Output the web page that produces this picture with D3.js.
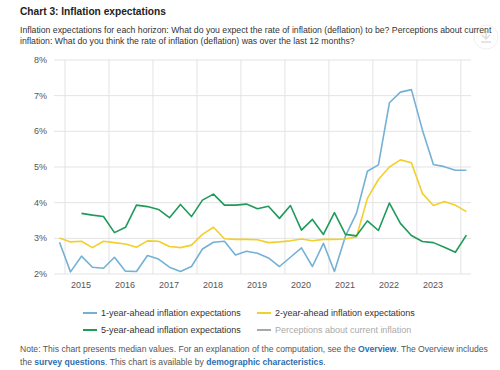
<!DOCTYPE html>
<head>
  <meta charset="utf-8">
  <script src="https://d3js.org/d3.v7.min.js"></script>
  <style>
    body { margin: 0; background: #fff; }
    text { font-family: "Liberation Sans", Arial, sans-serif; }
  </style>
</head>

<body>
  <script>

  // quarterly survey, 2014Q4 .. 2024Q1
  var quarters = ["2014Q4",
    "2015Q1","2015Q2","2015Q3","2015Q4","2016Q1","2016Q2","2016Q3","2016Q4",
    "2017Q1","2017Q2","2017Q3","2017Q4","2018Q1","2018Q2","2018Q3","2018Q4",
    "2019Q1","2019Q2","2019Q3","2019Q4","2020Q1","2020Q2","2020Q3","2020Q4",
    "2021Q1","2021Q2","2021Q3","2021Q4","2022Q1","2022Q2","2022Q3","2022Q4",
    "2023Q1","2023Q2","2023Q3","2023Q4","2024Q1"];

  var oneYear = [2.89,
    2.06, 2.50, 2.19, 2.16, 2.47, 2.08, 2.07, 2.52,
    2.42, 2.19, 2.07, 2.21, 2.70, 2.89, 2.92, 2.53,
    2.64, 2.58, 2.45, 2.21, 2.47, 2.73, 2.21, 2.86,
    2.07, 3.06, 3.70, 4.88, 5.06, 6.80, 7.10, 7.17,
    6.04, 5.07, 5.01, 4.91, 4.91];

  var twoYear = [3.01,
    2.90, 2.92, 2.74, 2.92, 2.88, 2.84, 2.75, 2.93,
    2.92, 2.77, 2.74, 2.81, 3.11, 3.31, 2.99, 2.97,
    2.97, 2.96, 2.88, 2.90, 2.93, 2.98, 2.93, 2.97,
    2.97, 2.98, 3.04, 4.12, 4.65, 5.00, 5.20, 5.12,
    4.26, 3.92, 4.03, 3.93, 3.75];

  var fiveYear = [null,
    null, 3.70, 3.65, 3.61, 3.16, 3.31, 3.93, 3.89,
    3.81, 3.58, 3.95, 3.61, 4.07, 4.24, 3.93, 3.93,
    3.96, 3.83, 3.90, 3.56, 3.92, 3.23, 3.53, 3.11,
    3.72, 3.11, 3.07, 3.49, 3.22, 3.99, 3.42, 3.08,
    2.91, 2.88, 2.75, 2.61, 3.09];

  var yTicks = [2, 3, 4, 5, 6, 7, 8];
  var years = [2015, 2016, 2017, 2018, 2019, 2020, 2021, 2022, 2023, 2024];

  var legendItems = [
    {name: "1-year-ahead inflation expectations", color: "#74b1d5", on: true},
    {name: "2-year-ahead inflation expectations", color: "#f2cf2a", on: true},
    {name: "5-year-ahead inflation expectations", color: "#1f9a5b", on: true},
    {name: "Perceptions about current inflation", color: "#a8a8a8", on: false}
  ];

  var W = 500, H = 370;

  var svg = d3.select("body").append("svg")
      .attr("width", W)
      .attr("height", H);

  svg.append("rect").attr("width", W).attr("height", H).attr("fill", "#fff");

  // shrink a text's font so it spans about `w` px
  function fit(sel, w) {
    var fs = +sel.attr("font-size") || 10;
    var len = sel.node().getComputedTextLength();
    sel.attr("font-size", (fs * w / len).toFixed(2));
    return sel;
  }

  // download button (faint, text runs over it)
  var btn = svg.append("g").attr("transform", "translate(486,37)");
  btn.append("circle").attr("r", 12).attr("fill", "#fff").attr("stroke", "#f0f0f0");
  btn.append("path").attr("d", "M0,-6V2M-4,-2L0,2L4,-2M-5,5H5")
      .attr("fill", "none").attr("stroke", "#ddd").attr("stroke-width", 1.5);

  // titles
  var title = svg.append("text")
      .attr("x", 20).attr("y", 15)
      .attr("font-weight", "bold")
      .attr("font-size", 12)
      .attr("fill", "#222")
      .text("Chart 3: Inflation expectations");
  fit(title, 146);

  var sub1 = svg.append("text")
      .attr("x", 20).attr("y", 33)
      .attr("font-size", 9)
      .attr("fill", "#333")
      .text("Inflation expectations for each horizon: What do you expect the rate of inflation (deflation) to be? Perceptions about current");
  fit(sub1, 472);
  svg.append("text")
      .attr("x", 20).attr("y", 44)
      .attr("font-size", sub1.attr("font-size"))
      .attr("fill", "#333")
      .text("inflation: What do you think the rate of inflation (deflation) was over the last 12 months?");

  // scales
  function qToYear(q) { return +q.slice(0, 4) + (+q.slice(5) - 0.5) / 4; }

  var x = d3.scaleLinear()
      .domain([2014.75, 2024.23])
      .range([54, 471]);

  var y = d3.scaleLinear()
      .domain([2, 8])
      .range([274, 60]);

  // grid
  var grid = svg.append("g");
  grid.selectAll(".hg")
    .data(yTicks)
    .enter().append("line")
      .attr("x1", x.range()[0]).attr("x2", x.range()[1])
      .attr("y1", y).attr("y2", y)
      .attr("stroke", "#e3e3e3");

  grid.selectAll(".vg")
    .data(years)
    .enter().append("line")
      .attr("x1", x).attr("x2", x)
      .attr("y1", y(8)).attr("y2", y(2))
      .attr("stroke", "#e3e3e3");

  svg.append("g").selectAll("text")
    .data(yTicks)
    .enter().append("text")
      .attr("x", 47)
      .attr("y", y)
      .attr("dy", "0.35em")
      .attr("text-anchor", "end")
      .attr("font-size", 9)
      .attr("fill", "#555")
      .text(function(d) { return d + "%"; });

  svg.append("g").selectAll("text")
    .data(years.filter(function(d) { return x(d) + 28 < x.range()[1]; }))
    .enter().append("text")
      .attr("x", function(d) { return x(d) + 16; })
      .attr("y", 288)
      .attr("text-anchor", "middle")
      .attr("font-size", 9)
      .attr("fill", "#555")
      .text(function(d) { return d; });

  // lines
  var series = [oneYear, twoYear, fiveYear];

  var line = d3.line()
      .defined(function(d) { return d[1] != null; })
      .x(function(d) { return x(qToYear(d[0])); })
      .y(function(d) { return y(d[1]); });

  series.forEach(function(s, k) {
    svg.append("path")
      .datum(quarters.map(function(q, i) { return [q, s[i]]; }))
      .attr("fill", "none")
      .attr("stroke", legendItems[k].color)
      .attr("stroke-width", 1.6)
      .attr("stroke-linejoin", "round")
      .attr("d", line);
  });

  // legend
  var leg = svg.append("g").selectAll("g")
    .data(legendItems)
    .enter().append("g")
      .attr("transform", function(d, i) {
        return "translate(" + (83 + (i % 2) * 174) + "," + (313 + Math.floor(i / 2) * 17) + ")";
      });

  leg.append("line")
      .attr("x1", 0).attr("x2", 14)
      .attr("stroke", function(d) { return d.color; })
      .attr("stroke-width", 2);

  var legText = leg.append("text")
      .attr("x", 18)
      .attr("dy", "0.35em")
      .attr("font-size", 9.5)
      .attr("fill", function(d) { return d.on ? "#333" : "#aaa"; })
      .text(function(d) { return d.name; });
  fit(d3.select(legText.node()), 140);
  legText.attr("font-size", d3.select(legText.node()).attr("font-size"));

  // note
  var note = svg.append("g").attr("fill", "#555");
  var n1 = note.append("text").attr("x", 20).attr("y", 352).attr("font-size", 9);
  n1.append("tspan").text("Note: This chart presents median values. For an explanation of the computation, see the ");
  n1.append("tspan").attr("font-weight", "bold").attr("fill", "#2e6fb0").text("Overview");
  n1.append("tspan").text(". The Overview includes");
  fit(n1, 469);
  var n2 = note.append("text").attr("x", 20).attr("y", 365).attr("font-size", n1.attr("font-size"));
  n2.append("tspan").text("the ");
  n2.append("tspan").attr("font-weight", "bold").attr("fill", "#2e6fb0").text("survey questions");
  n2.append("tspan").text(". This chart is available by ");
  n2.append("tspan").attr("font-weight", "bold").attr("fill", "#2e6fb0").text("demographic characteristics");
  n2.append("tspan").text(".");

  </script>

</body>
